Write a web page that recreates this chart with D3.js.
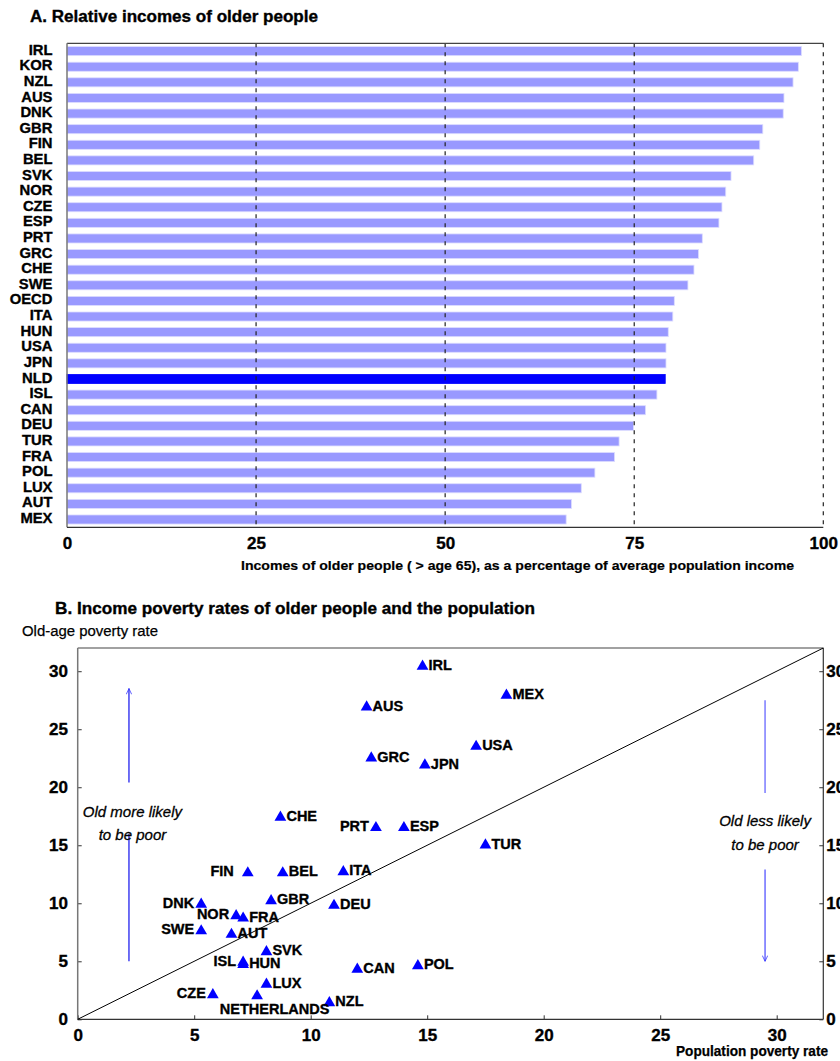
<!DOCTYPE html>
<html>
<head>
<meta charset="utf-8">
<script src="https://cdn.jsdelivr.net/npm/d3@7"></script>
<style>
  body { margin: 0; background: #fff; }
  svg { display: block; font-family: "Liberation Sans", Arial, sans-serif; }
  .heavy { stroke: #000; stroke-width: 0.35px; }
</style>
</head>
<body>
<div id="chart"></div>
<script>
// Panel A: relative incomes of older people
const incCountries = ["IRL","KOR","NZL","AUS","DNK","GBR","FIN","BEL","SVK","NOR","CZE","ESP","PRT","GRC","CHE",
                      "SWE","OECD","ITA","HUN","USA","JPN","NLD","ISL","CAN","DEU","TUR","FRA","POL","LUX","AUT","MEX"];
const incValues = [97.1,96.7,96.0,94.8,94.7,92.0,91.6,90.8,87.8,87.1,86.6,86.2,84.0,83.5,82.9,
                   82.1,80.3,80.1,79.5,79.2,79.2,79.1,78.0,76.5,74.9,73.0,72.4,69.8,68.0,66.7,66.0];
const incTicks = [0, 25, 50, 75, 100];

// Panel B: poverty rates
const povCountries = ["IRL","MEX","AUS","USA","GRC","JPN","CHE","PRT","ESP","TUR","FIN","BEL","ITA","DNK","GBR","DEU",
                      "NOR","FRA","SWE","AUT","SVK","ISL","HUN","CAN","POL","LUX","CZE","NLD","NZL"];
const popRate = [14.8,18.4,12.4,17.1,12.6,14.9,8.7,12.8,14.0,17.5,7.3,8.8,11.4,5.3,8.3,11.0,
                 6.8,7.1,5.3,6.6,8.1,7.1,7.1,12.0,14.6,8.1,5.8,7.7,10.8];
const oldRate = [30.5,28.0,27.0,23.6,22.6,22.0,17.5,16.6,16.6,15.1,12.7,12.7,12.8,10.0,10.3,9.9,
                 9.0,8.8,7.7,7.4,5.9,5.0,4.8,4.4,4.7,3.1,2.2,2.1,1.5];
const povTicks = [0, 5, 10, 15, 20, 25, 30];
const leftLabelled = ["FIN","DNK","NOR","SWE","ISL","CZE","PRT"];

const W = 840, H = 1061;
const FONT = "Liberation Sans, Arial, sans-serif";
const svg = d3.select("#chart").append("svg").attr("width", W).attr("height", H);

svg.append("defs").append("marker")
  .attr("id", "arrow").attr("viewBox", "0 0 10 10")
  .attr("refX", 9.5).attr("refY", 5).attr("markerWidth", 9).attr("markerHeight", 6)
  .attr("markerUnits", "userSpaceOnUse").attr("orient", "auto")
  .append("path").attr("d", "M0,0.5 L9.5,5 L0,9.5").attr("fill", "none")
  .attr("stroke", "#3333ff").attr("stroke-width", 1.3);

// ---------- Panel A ----------
const a = { left: 67, right: 823.3, top: 43.3, bottom: 527.3 };
const xA = d3.scaleLinear().domain([0, 100]).range([a.left, a.right]);
const yA = d3.scaleBand().domain(incCountries).range([a.top, a.bottom]).paddingInner(0.42).paddingOuter(0.21);

svg.append("text").attr("class", "heavy").attr("x", 30).attr("y", 22.3)
  .attr("font-size", 16).attr("font-weight", "bold")
  .attr("textLength", 288).attr("lengthAdjust", "spacingAndGlyphs")
  .text("A. Relative incomes of older people");

svg.append("g").selectAll("rect")
  .data(incCountries)
  .join("rect")
  .attr("x", xA(0))
  .attr("y", d => yA(d))
  .attr("width", (d, i) => xA(incValues[i]) - xA(0))
  .attr("height", yA.bandwidth())
  .attr("fill", d => d === "NLD" ? "#0000ff" : "#9999ff")
  .attr("stroke", d => d === "NLD" ? "#0000ff" : "#dcdcff")
  .attr("stroke-width", 0.8);

// dashed gridlines
svg.append("g").selectAll("line")
  .data(incTicks.slice(1))
  .join("line")
  .attr("x1", d => xA(d)).attr("x2", d => xA(d))
  .attr("y1", a.top).attr("y2", a.bottom)
  .attr("stroke", "#222").attr("stroke-width", 1.2)
  .attr("stroke-dasharray", "4,5");

svg.append("line").attr("x1", a.left).attr("x2", a.right).attr("y1", a.top).attr("y2", a.top)
  .attr("stroke", "#444").attr("stroke-width", 1.2);
svg.append("line").attr("x1", a.left).attr("x2", a.left).attr("y1", a.top).attr("y2", a.bottom)
  .attr("stroke", "#777").attr("stroke-width", 1.5);
svg.append("line").attr("x1", a.left).attr("x2", a.right).attr("y1", a.bottom).attr("y2", a.bottom)
  .attr("stroke", "#333").attr("stroke-width", 1.2);

const xAxisA = svg.append("g").attr("transform", `translate(0,${a.bottom})`)
  .call(d3.axisBottom(xA).tickValues(incTicks).tickSize(0).tickPadding(9.5));
xAxisA.select(".domain").remove();
xAxisA.selectAll("text").attr("class", "heavy").attr("font-size", 17).attr("font-weight", "bold")
  .attr("fill", "#000").attr("font-family", FONT);

const yAxisA = svg.append("g").attr("transform", `translate(${a.left},0)`)
  .call(d3.axisLeft(yA).tickSize(0).tickPadding(14.5));
yAxisA.select(".domain").remove();
yAxisA.selectAll("text").attr("class", "heavy").attr("font-size", 14.8).attr("font-weight", "bold")
  .attr("fill", "#000").attr("dy", "0.24em").attr("font-family", FONT);

svg.append("text").attr("class", "heavy").attr("x", 794).attr("y", 569.5).attr("text-anchor", "end")
  .attr("font-size", 13.5).attr("font-weight", "bold").style("stroke-width", "0.2px")
  .attr("textLength", 553).attr("lengthAdjust", "spacingAndGlyphs")
  .text("Incomes of older people ( > age 65), as a percentage of average population income");

// ---------- Panel B ----------
const b = { left: 77.7, right: 823.3, top: 648, bottom: 1019.3 };
const xB = d3.scaleLinear().domain([0, 32]).range([b.left, b.right]);
const yB = d3.scaleLinear().domain([0, 32]).range([b.bottom, b.top]);

svg.append("text").attr("class", "heavy").attr("x", 55).attr("y", 614)
  .attr("font-size", 16.5).attr("font-weight", "bold")
  .attr("textLength", 480).attr("lengthAdjust", "spacingAndGlyphs")
  .text("B. Income poverty rates of older people and the population");
svg.append("text").attr("class", "heavy").attr("x", 22).attr("y", 636)
  .attr("font-size", 15.5).style("stroke-width", "0.25px")
  .attr("textLength", 136).attr("lengthAdjust", "spacingAndGlyphs")
  .text("Old-age poverty rate");

const axisFont = sel => sel.selectAll("text").attr("class", "heavy").attr("font-size", 17)
  .attr("font-weight", "bold").attr("fill", "#000").attr("font-family", FONT);

const yLeftB = svg.append("g").attr("transform", `translate(${b.left},0)`)
  .call(d3.axisLeft(yB).tickValues(povTicks).tickSizeInner(-4).tickSizeOuter(0).tickPadding(9.7));
yLeftB.select(".domain").remove();
yLeftB.selectAll(".tick line").attr("stroke", "#333");
axisFont(yLeftB);

const yRightB = svg.append("g").attr("transform", `translate(${b.right},0)`)
  .call(d3.axisRight(yB).tickValues(povTicks).tickSizeInner(-4).tickSizeOuter(0).tickPadding(3));
yRightB.select(".domain").remove();
yRightB.selectAll(".tick line").attr("stroke", "#333");
axisFont(yRightB);

const xAxisB = svg.append("g").attr("transform", `translate(0,${b.bottom})`)
  .call(d3.axisBottom(xB).tickValues(povTicks).tickSizeInner(-4).tickSizeOuter(0).tickPadding(9.5));
xAxisB.select(".domain").remove();
xAxisB.selectAll(".tick line").attr("stroke", "#333");
axisFont(xAxisB);

// frame
svg.append("line").attr("x1", b.left).attr("x2", b.right).attr("y1", b.top).attr("y2", b.top)
  .attr("stroke", "#444").attr("stroke-width", 1.2);
svg.append("line").attr("x1", b.right).attr("x2", b.right).attr("y1", b.top).attr("y2", b.bottom)
  .attr("stroke", "#333").attr("stroke-width", 1.2);
svg.append("line").attr("x1", b.left).attr("x2", b.left).attr("y1", b.top).attr("y2", b.bottom)
  .attr("stroke", "#777").attr("stroke-width", 1.5);
svg.append("line").attr("x1", b.left).attr("x2", b.right).attr("y1", b.bottom).attr("y2", b.bottom)
  .attr("stroke", "#333").attr("stroke-width", 1.2);

// 45 degree line
svg.append("line").attr("x1", xB(0)).attr("y1", yB(0)).attr("x2", xB(32)).attr("y2", yB(32))
  .attr("stroke", "#000").attr("stroke-width", 1);

// annotation arrows
const arrows = [
  { x: 2.2, y1: 20.4, y2: 28.5, head: true, color: "#2222ee" },
  { x: 2.2, y1: 16.0, y2: 5.0, head: false, color: "#2222ee" },
  { x: 29.5, y1: 27.5, y2: 19.5, head: false, color: "#6666ff" },
  { x: 29.5, y1: 12.9, y2: 5.0, head: true, color: "#5555ff" }
];
svg.append("g").selectAll("line").data(arrows).join("line")
  .attr("x1", d => xB(d.x)).attr("x2", d => xB(d.x))
  .attr("y1", d => yB(d.y1)).attr("y2", d => yB(d.y2))
  .attr("stroke", d => d.color).attr("stroke-width", 1.3)
  .attr("marker-end", d => d.head ? "url(#arrow)" : null);

const notes = [
  { x: 2.35, y: 17.9, t: "Old more likely" }, { x: 2.35, y: 15.95, t: "to be poor" },
  { x: 29.5, y: 17.15, t: "Old less likely" }, { x: 29.5, y: 15.05, t: "to be poor" }
];
svg.append("g").selectAll("text").data(notes).join("text")
  .attr("class", "heavy").style("stroke-width", "0.3px")
  .attr("x", d => xB(d.x)).attr("y", d => yB(d.y) + 5.5)
  .attr("text-anchor", "middle").attr("font-size", 15).attr("font-style", "italic")
  .text(d => d.t);

// points
const pts = povCountries.map((c, i) => ({ c, x: popRate[i], y: oldRate[i] }));
svg.append("g").selectAll("path").data(pts).join("path")
  .attr("d", d3.symbol(d3.symbolTriangle, 60))
  .attr("transform", d => `translate(${xB(d.x)},${yB(d.y) + 1})`)
  .attr("fill", "#0000ff");

svg.append("g").selectAll("text").data(pts).join("text")
  .attr("class", "heavy")
  .attr("x", d => {
    if (d.c === "NLD") return xB(d.x) + 17.5;
    if (leftLabelled.includes(d.c)) return xB(d.x) - (d.c === "FIN" ? 14 : 7);
    return xB(d.x) + 6;
  })
  .attr("y", d => d.c === "NLD" ? yB(d.y) + 19.5 : yB(d.y) + 4.5)
  .attr("text-anchor", d => d.c === "NLD" ? "middle" : leftLabelled.includes(d.c) ? "end" : "start")
  .attr("font-size", 14.5).attr("font-weight", "bold")
  .text(d => d.c === "NLD" ? "NETHERLANDS" : d.c);

svg.append("text").attr("class", "heavy").style("stroke-width", "0.25px")
  .attr("x", 828).attr("y", 1056).attr("text-anchor", "end")
  .attr("font-size", 14).attr("font-weight", "bold")
  .attr("textLength", 152).attr("lengthAdjust", "spacingAndGlyphs")
  .text("Population poverty rate");
</script>
</body>
</html>
